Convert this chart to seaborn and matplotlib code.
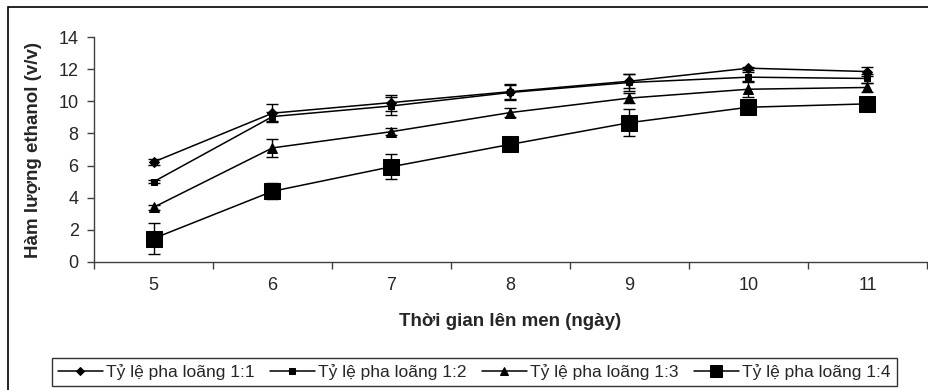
# Ethanol content over fermentation time, four dilution ratios
import numpy as np
import matplotlib
matplotlib.use("Agg")
import matplotlib.pyplot as plt
import matplotlib.patches as patches
import seaborn as sns

# data
days = [5, 6, 7, 8, 9, 10, 11]
r11 = [6.22, 9.26, 9.92, 10.60, 11.25, 12.06, 11.85]
r11_err = [0.20, 0.55, 0.50, 0.45, 0.45, 0.10, 0.30]
r12 = [4.99, 9.05, 9.71, 10.55, 11.17, 11.50, 11.42]
r12_err = [0.10, 0.30, 0.57, 0.47, 0.50, 0.30, 0.30]
r13 = [3.40, 7.10, 8.11, 9.30, 10.20, 10.75, 10.86]
r13_err = [0.15, 0.55, 0.20, 0.30, 0.30, 0.50, 0.30]
r14 = [1.46, 4.40, 5.93, 7.32, 8.67, 9.63, 9.84]
r14_err = [0.94, 0.50, 0.76, 0.30, 0.86, 0.10, 0.10]
labels = ["Tỷ lệ pha loãng 1:1", "Tỷ lệ pha loãng 1:2",
          "Tỷ lệ pha loãng 1:3", "Tỷ lệ pha loãng 1:4"]

sns.set_style("white")
plt.rcParams['font.family'] = ['Liberation Sans', 'DejaVu Sans']

fig = plt.figure(figsize=(9.29, 3.9), dpi=100)
ax = fig.add_axes([94 / 929, 1 - 262 / 390, 833 / 929, 225 / 390])

series = [r11, r12, r13, r14]
errors = [r11_err, r12_err, r13_err, r14_err]
markers = ['D', 's', '^', 's']
sizes = [5, 5, 7, 11]

for vals, err, m, ms, lab in zip(series, errors, markers, sizes, labels):
    ax.errorbar(days, vals, yerr=err, fmt='none', ecolor='black',
                elinewidth=1, capsize=4.5, capthick=1, zorder=2)
    sns.lineplot(x=days, y=vals, ax=ax, color='black', linewidth=1.1,
                 marker=m, markersize=ms, markeredgecolor='black',
                 markerfacecolor='black', label=lab, zorder=3)

ax.set_xlim(4.5, 11.5)
ax.set_ylim(0, 14)
ax.set_yticks(range(0, 15, 2))
ax.set_xticks(np.arange(4.5, 12, 1))
ax.set_xticklabels([])
ax.set_xticks(days, minor=True)
ax.set_xticklabels([str(d) for d in days], minor=True)
ax.tick_params(axis='x', which='major', direction='out', length=5,
               width=1, color='#404040', bottom=True)
ax.tick_params(axis='x', which='minor', length=0, pad=11, labelsize=13)
ax.tick_params(axis='y', direction='out', length=5, width=1,
               color='#404040', left=True, pad=6, labelsize=13)

for s in ['top', 'right']:
    ax.spines[s].set_visible(False)
for s in ['left', 'bottom']:
    ax.spines[s].set_color('#404040')
    ax.spines[s].set_linewidth(1)

ax.set_xlabel("Thời gian lên men (ngày)", fontsize=13.5, fontweight='bold')
ax.set_ylabel("Hàm lượng ethanol (v/v)", fontsize=13.5, fontweight='bold')
ax.xaxis.label.set_va('center')
ax.yaxis.label.set_va('center')
ax.xaxis.set_label_coords(0.5, (262 - 321.7) / 225)
ax.yaxis.set_label_coords((33 - 94) / 833, 0.5)

handles, labs = ax.get_legend_handles_labels()
ax.get_legend().remove()
fig.legend(handles[:4], labs[:4], ncol=4, loc='center', mode='expand',
           bbox_to_anchor=(51.7 / 929, 1 - 389 / 390, (897 - 51.7) / 929, 34 / 390),
           frameon=True, fancybox=False, edgecolor='black', fontsize=12.5,
           handlelength=2.6, handletextpad=0.2, borderaxespad=0, borderpad=0.35,
           markerscale=0.75)
fig.legends[0].get_frame().set_linewidth(1)

# outer chart border
fig.patches.append(patches.Rectangle((8 / 929, -0.1), 1.1, 1.1 - 7 / 390,
                                     transform=fig.transFigure, fill=False,
                                     edgecolor='black', linewidth=1.2))

plt.savefig("out.png", dpi=100)
plt.close()
